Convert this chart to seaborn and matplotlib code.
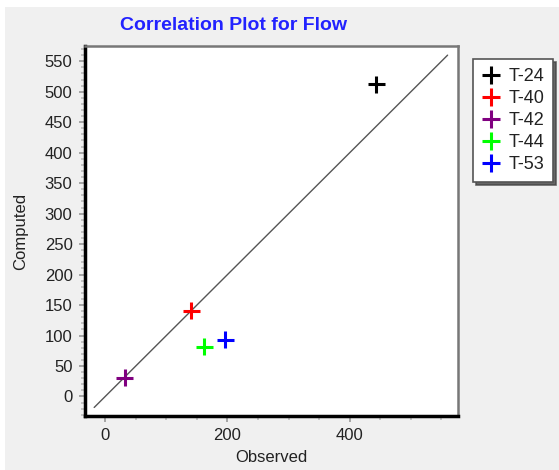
import matplotlib
matplotlib.use("Agg")
import matplotlib.pyplot as plt
from matplotlib.patches import Rectangle
from matplotlib.ticker import MultipleLocator
import pandas as pd
import seaborn as sns

# Observed vs computed flow at each station
stations = ["T-24", "T-40", "T-42", "T-44", "T-53"]
observed = [443, 141, 32, 162, 196]
computed = [512, 141, 31, 82, 93]
colors = ["#000000", "#FF0000", "#800080", "#00FF00", "#0000FF"]

# 1:1 reference line extent
line_ends = [-18, 560]

df = pd.DataFrame({"Station": stations, "Observed": observed, "Computed": computed})

sns.set_theme(style="white")
plt.rcParams["font.family"] = ["Liberation Sans", "DejaVu Sans"]

fig = plt.figure(figsize=(5.59, 4.70), dpi=100)
fig.patch.set_facecolor("white")
# grey panel background
fig.patches.append(Rectangle((5 / 559, 0), 1 - 5 / 559, 1 - 7 / 470,
                             transform=fig.transFigure, facecolor="#F0F0F0",
                             edgecolor="none", zorder=-10))

ax = fig.add_axes([85 / 559, 1 - 416 / 470, (458 - 85) / 559, (416 - 46) / 470])
ax.set_facecolor("white")

sns.lineplot(x=line_ends, y=line_ends, ax=ax, color="#555555", linewidth=1.0,
             legend=False, zorder=1)
sns.scatterplot(data=df, x="Observed", y="Computed", hue="Station",
                palette=colors, marker="+", s=150, linewidth=2.2, ax=ax, zorder=3)

ax.set_xlim(-33, 577)
ax.set_ylim(-32, 575)
ax.xaxis.set_major_locator(MultipleLocator(200))
ax.xaxis.set_minor_locator(MultipleLocator(50))
ax.yaxis.set_major_locator(MultipleLocator(50))
ax.yaxis.set_minor_locator(MultipleLocator(10))
ax.set_yticks(range(0, 551, 50))

ax.tick_params(axis="both", which="major", direction="out", length=4, width=1.2,
               color="#999999", labelsize=12, labelcolor="#222222", pad=5,
               bottom=True, left=True)
ax.tick_params(axis="both", which="minor", direction="out", length=3, width=1.2,
               color="#BBBBBB", bottom=True, left=True)

for side in ["left", "bottom"]:
    ax.spines[side].set_color("black")
    ax.spines[side].set_linewidth(2.5)
for side in ["top", "right"]:
    ax.spines[side].set_color("#777777")
    ax.spines[side].set_linewidth(1.8)

ax.set_xlabel("Observed", fontsize=12, color="#222222", labelpad=5)
ax.set_ylabel("Computed", fontsize=12, color="#222222", labelpad=12)

fig.text(234 / 559, 1 - 26 / 470, "Correlation Plot for Flow", ha="center",
         va="center", fontsize=14, fontweight="bold", color="#2222FF")

leg = ax.get_legend()
handles = leg.legend_handles
leg.remove()
leg = ax.legend(handles, stations, loc="upper left",
                bbox_to_anchor=(473 / 559, 1 - 59 / 470),
                bbox_transform=fig.transFigure, frameon=True,
                shadow={"ox": 2, "oy": -2, "color": "#444444", "alpha": 0.8},
                fancybox=False, fontsize=13, handlelength=1.0, handletextpad=0.45,
                borderpad=0.5, labelspacing=0.28, borderaxespad=0,
                markerscale=1.1)
leg.get_frame().set_edgecolor("#555555")
leg.get_frame().set_linewidth(1.2)
for t in leg.get_texts():
    t.set_color("#222222")

fig.savefig("out.png", dpi=100, facecolor=fig.get_facecolor())
